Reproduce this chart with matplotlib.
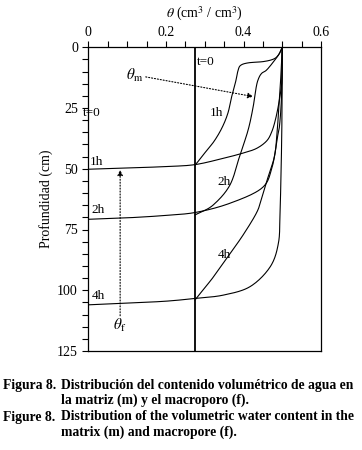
import matplotlib
matplotlib.use('Agg')
import matplotlib.pyplot as plt
import numpy as np

plt.rcParams['font.family'] = ['Liberation Serif', 'DejaVu Serif']
plt.rcParams['mathtext.fontset'] = 'stix'

# -- matrix (m) profiles
m1_theta = [0.500, 0.490, 0.477, 0.451, 0.413, 0.393, 0.386, 0.380, 0.370, 0.360, 0.345, 0.325, 0.305, 0.288, 0.275]
m1_depth = [0, 3.2, 4.9, 5.9, 6.4, 7.4, 9.5, 14, 20, 27, 33, 38.5, 42.5, 46, 48.5]

m2_theta = [0.500, 0.494, 0.481, 0.460, 0.447, 0.439, 0.433, 0.425, 0.412, 0.391, 0.365, 0.322, 0.284, 0.275]
m2_depth = [0, 2.2, 5.2, 9.3, 10.7, 12.8, 16.2, 24.4, 34, 44.3, 56.7, 64.9, 68.3, 69]

m4_theta = [0.500, 0.497, 0.493, 0.488, 0.481, 0.465, 0.447, 0.434, 0.400, 0.365, 0.323, 0.300, 0.275]
m4_depth = [0, 10, 20, 32, 44, 52.5, 62, 68, 77, 85, 94.4, 99, 104]

# -- macropore (f) profiles
f1_theta = [0, 0.1, 0.2, 0.275, 0.348, 0.400, 0.434, 0.460, 0.473, 0.482, 0.490, 0.496, 0.499, 0.500]
f1_depth = [50.2, 49.7, 49.1, 48.3, 45.7, 43.5, 41.6, 38.5, 34.7, 30, 24, 18, 13.5, 0]

f2_theta = [0, 0.1, 0.2, 0.279, 0.365, 0.447, 0.473, 0.487, 0.493, 0.498, 0.500]
f2_depth = [70.8, 70.2, 69.2, 67.9, 64.2, 58, 49.8, 37.4, 32, 20, 0]

f4_theta = [0, 0.1, 0.2, 0.279, 0.348, 0.417, 0.469, 0.490, 0.494, 0.497, 0.499, 0.500]
f4_depth = [106, 105.3, 104.5, 103.3, 102, 98.5, 90.3, 80.6, 69, 50, 30, 0]

theta_init = 0.275


def smooth(x, y, n=20):
    # Catmull-Rom through the read points, only to draw them as a smooth line
    p = np.column_stack([x, y]).astype(float)
    p = np.vstack([2 * p[0] - p[1], p, 2 * p[-1] - p[-2]])
    out = []
    t = np.linspace(0, 1, n, endpoint=False)[:, None]
    for i in range(1, len(p) - 2):
        p0, p1, p2, p3 = p[i - 1], p[i], p[i + 1], p[i + 2]
        seg = 0.5 * ((2 * p1) + (-p0 + p2) * t + (2 * p0 - 5 * p1 + 4 * p2 - p3) * t ** 2
                     + (-p0 + 3 * p1 - 3 * p2 + p3) * t ** 3)
        out.append(seg)
    out.append(p[-2][None, :])
    out = np.vstack(out)
    return out[:, 0], out[:, 1]


fig = plt.figure(figsize=(3.62, 4.5), dpi=100)
ax = fig.add_axes([0.244, 0.22, 0.643, 0.675])

for th, d in [(m1_theta, m1_depth), (m2_theta, m2_depth), (m4_theta, m4_depth),
              (f1_theta, f1_depth), (f2_theta, f2_depth), (f4_theta, f4_depth)]:
    sx, sy = smooth(th, d)
    ax.plot(sx, sy, color='black', lw=0.8)

ax.axvline(theta_init, color='black', lw=1.3)

ax.set_xlim(0, 0.6)
ax.set_ylim(125, 0)

ax.xaxis.tick_top()
ax.xaxis.set_label_position('top')
ax.set_xticks(np.arange(0, 0.61, 0.05), minor=True)
ax.set_xticks([0, 0.2, 0.4, 0.6])
ax.set_xticklabels(['0', '0.2', '0.4', '0.6'])
ax.set_yticks(np.arange(0, 126, 5), minor=True)
ax.set_yticks([0, 25, 50, 75, 100, 125])
ax.tick_params(which='both', direction='out', length=4, width=0.8, labelsize=10, colors='black')
ax.tick_params(axis='x', pad=2)
ax.set_xlabel(r'$\theta$ (cm$^3$ / cm$^3$)', fontsize=10, labelpad=6)
ax.set_ylabel('Profundidad (cm)', fontsize=10, labelpad=3)
for s in ax.spines.values():
    s.set_linewidth(0.9)

# labels
ax.text(0.28, 6, 't=0', fontsize=9.5, va='center', ha='left')
ax.text(-0.014, 27, 't=0', fontsize=9.5, va='center', ha='left', clip_on=False)
ax.text(0.33, 27, '1h', fontsize=9.5, va='center', ha='center')
ax.text(0.35, 55.4, '2h', fontsize=9.5, va='center', ha='center')
ax.text(0.35, 85.5, '4h', fontsize=9.5, va='center', ha='center')
ax.text(0.005, 47.3, '1h', fontsize=9.5, va='center', ha='left')
ax.text(0.007, 66.8, '2h', fontsize=9.5, va='center', ha='left')
ax.text(0.010, 102.5, '4h', fontsize=9.5, va='center', ha='left')

ax.text(0.12, 11.5, r'$\theta_{\rm m}$', fontsize=11, va='center', ha='center')
ax.text(0.082, 114.5, r'$\theta_{\rm f}$', fontsize=11, va='center', ha='center')
ax.annotate('', xy=(0.425, 20.3), xytext=(0.148, 12.2),
            arrowprops=dict(arrowstyle='-|>', ls=':', lw=0.8, color='black',
                            mutation_scale=8, shrinkA=0, shrinkB=0))
ax.annotate('', xy=(0.082, 50.5), xytext=(0.082, 110.5),
            arrowprops=dict(arrowstyle='-|>', ls=':', lw=0.8, color='black',
                            mutation_scale=8, shrinkA=0, shrinkB=0))

# caption
cap = dict(fontsize=9.8, fontweight='bold', va='center', ha='left')
fig.text(3 / 362, 1 - 385 / 450, 'Figura 8.', **cap)
fig.text(61 / 362, 1 - 385 / 450, 'Distribución del contenido volumétrico de agua en', **cap)
fig.text(61 / 362, 1 - 400 / 450, 'la matriz (m) y el macroporo (f).', **cap)
fig.text(3 / 362, 1 - 417 / 450, 'Figure 8.', **cap)
fig.text(61 / 362, 1 - 417 / 450, 'Distribution of the volumetric water content in the', **cap)
fig.text(61 / 362, 1 - 432 / 450, 'matrix (m) and macropore (f).', **cap)

fig.savefig('out.png', dpi=100)
